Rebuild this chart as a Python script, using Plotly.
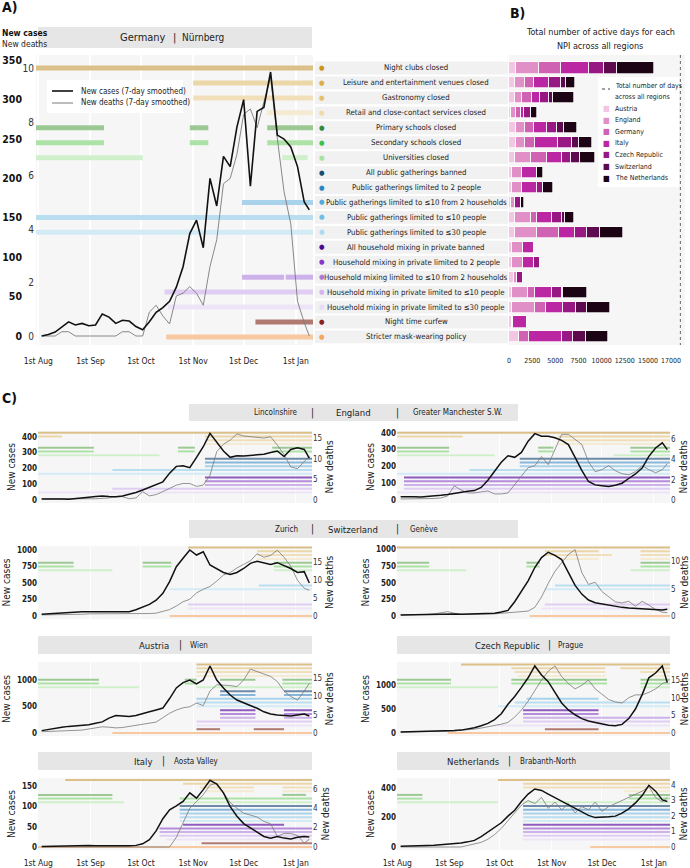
import pandas as pd
import plotly.graph_objects as go

W, H = 690, 868
FONT = "Liberation Sans Narrow, DejaVu Sans Condensed, Roboto Condensed, sans-serif"
DAY0 = pd.Timestamp("2020-08-01")

# ---------------- data ----------------
# days since 1 Aug 2020 at which the smoothed curves were read off
curve_days = [2, 6, 10, 14, 18, 22, 26, 30, 34, 38, 42, 46, 50, 54, 58, 62, 66, 70, 74, 78,
              82, 86, 90, 94, 98, 102, 106, 110, 114, 118, 122, 126, 130, 134, 138, 142, 146,
              150, 154, 158, 161]

month_ticks = ["2020-08-01", "2020-09-01", "2020-10-01", "2020-11-01", "2020-12-01", "2021-01-01"]
month_labels = ["1st Aug", "1st Sep", "1st Oct", "1st Nov", "1st Dec", "1st Jan"]

npi_names = ["Night clubs closed", "Leisure and entertainment venues closed", "Gastronomy closed",
             "Retail and close-contact services closed", "Primary schools closed",
             "Secondary schools closed", "Universities closed", "All public gatherings banned",
             "Public gatherings limited to 2 people",
             "Public gatherings limited to ≤10 from 2 households",
             "Public gatherings limited to ≤10 people", "Public gatherings limited to ≤30 people",
             "All household mixing in private banned",
             "Household mixing in private limited to 2 people",
             "Household mixing limited to ≤10 from 2 households",
             "Household mixing in private limited to ≤10 people",
             "Household mixing in private limited to ≤30 people", "Night time curfew",
             "Stricter mask-wearing policy"]
npi_dot_colors = ["#c9961a", "#dcac48", "#e6bf6e", "#f0d9a6", "#2e8b3a", "#3cc24a", "#a6e39f",
                  "#154e6e", "#2a86c0", "#52a9de", "#6dbde6", "#a9dcef", "#4b0a8c", "#8a35c8",
                  "#ad79dc", "#d3b6ef", "#e7dbf6", "#8b2222", "#f5a55c"]
npi_line_colors = ["#dcc08a", "#ecd7a9", "#f0dfb9", "#f5ead2", "#9cc993", "#ade2a6", "#d0f0cb",
                   "#6d8aa8", "#86b6da", "#a9d3eb", "#b9def0", "#d3ebf5", "#8f5bbf", "#b68bdb",
                   "#cdb1ea", "#e0cdf3", "#ede4f8", "#b07a72", "#f8c9a0"]

countries = ["Austria", "England", "Germany", "Italy", "Czech Republic", "Switzerland",
             "The Netherlands"]
country_colors = ["#f3c6e3", "#e08fc7", "#d062b4", "#bb27a2", "#981883", "#5e0a4e", "#1c0414"]
days_austria = [720, 650, 650, 180, 720, 720, 650, 290, 290, 180, 650, 650, 290, 290, 540, 290, 290, 290, 1080]
days_england = [2520, 1080, 720, 600, 1000, 1000, 1700, 1150, 1150, 470, 1700, 2410, 1190, 1190, 290, 1800, 2520, 180, 0]
days_germany = [2340, 970, 1080, 475, 970, 1080, 1790, 0, 0, 0, 720, 2380, 0, 0, 0, 720, 1150, 0, 1120]
days_italy = [3090, 1620, 900, 360, 1370, 2520, 1550, 1620, 1620, 0, 1620, 1700, 1220, 1260, 0, 1870, 1910, 1440, 3490]
days_czech = [1620, 1260, 970, 790, 1150, 1440, 970, 0, 650, 610, 1080, 1330, 0, 610, 720, 1010, 1340, 0, 1260]
days_switzerland = [1340, 540, 460, 0, 720, 790, 1000, 0, 0, 0, 290, 1300, 0, 0, 0, 180, 1190, 0, 1330]
days_netherlands = [4030, 1000, 2230, 650, 1440, 1370, 1620, 650, 1010, 360, 970, 2520, 0, 0, 0, 2590, 2520, 0, 2450]
total_days_all_regions = 18500
b_ticks = [0, 2500, 5000, 7500, 10000, 12500, 15000]
b_last_tick = 17000

# Germany | Nuernberg
nue_cases = [0, 2, 5, 12, 18, 14, 16, 13, 14, 28, 24, 16, 20, 19, 12, 8, 18, 30, 36, 44, 62, 88, 130,
             147, 112, 200, 165, 228, 215, 265, 300, 190, 285, 290, 335, 255, 250, 240, 215, 170, 160]
nue_deaths = [0, 0, 0, 0.16, 0.16, 0, 0, 0, 0, 0, 0, 0, 0.16, 0.16, 0, 0, 0.9, 1.15, 0.75, 0.45, 1.5,
              1.6, 1.85, 1.6, 1.15, 2.6, 3.6, 5.7, 5.9, 6.8, 8.3, 8.5, 7.8, 8.8, 9.7, 7.4, 5.4, 4.2,
              1.3, 0.5, 0]
# (npi row, first day, last day)
nue_npi = [(0, -3, 165), (1, 92, 165), (2, 92, 165), (3, 136, 165),
           (4, -3, 39), (4, 90, 101), (4, 136, 165), (5, -3, 39), (5, 90, 101), (5, 136, 165),
           (6, -3, 62), (6, 145, 160), (9, 121, 165), (10, -3, 165), (11, -3, 165),
           (14, 121, 146), (14, 147, 165), (15, 75, 165), (16, 77, 165), (17, 129, 165),
           (18, 76, 165)]

# England | Lincolnshire
lin_cases = [6, 7, 8, 6, 5, 8, 12, 18, 22, 25, 22, 20, 25, 35, 48, 63, 80, 99, 115, 170, 213, 217,
             205, 270, 337, 422, 369, 310, 270, 280, 278, 282, 285, 290, 300, 310, 275, 320, 330,
             320, 265]
lin_deaths = [0.3, 0.3, 0.3, 0.2, 0.2, 0.3, 0.3, 0.3, 0.3, 0.4, 0.5, 0.8, 0.8, 0.3, 0.5, 2.0, 1.0,
              1.3, 2.0, 2.8, 3.6, 4.0, 4.0, 3.3, 3.6, 6.0, 11.7, 13.5, 14.5, 16.0, 15.5, 15.3, 15.1,
              15.0, 15.3, 13.3, 11.0, 8.0, 7.6, 9.4, 10.6]
lin_npi = [(0, -3, 165), (1, -3, 14), (1, 99, 165), (2, 99, 165), (3, 99, 165),
           (4, -3, 33), (4, 83, 93), (4, 139, 165), (5, -3, 33), (5, 83, 93), (5, 139, 165),
           (6, -3, 72), (7, 99, 165), (8, 99, 165), (9, 99, 165), (10, 44, 165), (11, -3, 165),
           (12, 99, 165), (13, 99, 165), (14, 99, 165), (15, 44, 165), (16, -3, 165)]

# England | Greater Manchester S.W.
gms_cases = [20, 22, 20, 18, 20, 24, 28, 33, 40, 47, 52, 56, 75, 118, 175, 225, 263, 254, 283, 350,
             395, 380, 380, 370, 355, 330, 254, 176, 110, 90, 85, 80, 88, 100, 128, 155, 190, 260,
             310, 340, 300]
gms_deaths = [0.1, 0.1, 0.1, 0.1, 0.1, 0.15, 0.2, 0.4, 1.4, 1.0, 0.7, 0.7, 0.8, 0.9, 0.6, 0.6, 0.7,
              1.5, 2.4, 3.2, 3.4, 4.3, 3.5, 5.0, 6.5, 6.5, 6.0, 5.5, 3.8, 2.8, 3.0, 3.4, 2.9, 2.6,
              2.5, 2.8, 3.4, 3.0, 2.7, 3.0, 3.6]
gms_npi = [(0, -3, 165), (1, -3, 39), (1, 96, 165), (2, 96, 165), (3, 96, 165),
           (4, -3, 31), (4, 84, 93), (4, 139, 165), (5, -3, 31), (5, 84, 93), (5, 139, 165),
           (6, -3, 58), (6, 129, 165), (7, 73, 165), (8, 73, 165), (9, 73, 165), (10, 43, 165),
           (11, -3, 165), (12, 4, 165), (13, 4, 165), (14, 4, 165), (15, 4, 165), (16, -3, 165)]

# Switzerland | Zurich
zur_cases = [28, 35, 42, 50, 56, 60, 65, 66, 65, 65, 62, 58, 55, 65, 95, 130, 175, 240, 343, 520,
             747, 874, 1000, 924, 974, 773, 720, 660, 630, 660, 720, 798, 830, 800, 780, 808, 770,
             720, 660, 672, 500]
zur_deaths = [0.3, 0.3, 0.4, 0.4, 0.5, 0.5, 0.5, 0.6, 0.6, 0.5, 0.5, 0.5, 0.5, 0.6, 0.6, 0.6, 0.7,
              0.8, 1.2, 1.8, 2.8, 4.0, 4.7, 6.5, 7.5, 8.3, 9.8, 11.5, 12.2, 13.5, 14.5, 15.5, 17.5,
              16.5, 17.0, 18.5, 16.5, 14.0, 10.0, 7.8, 7.2]
zur_npi = [(0, 89, 165), (1, 130, 165), (2, 130, 165), (3, 130, 165),
           (4, -3, 21), (4, 62, 79), (4, 140, 165), (5, -3, 21), (5, 62, 79), (5, 140, 165),
           (6, -3, 44), (6, 140, 165), (10, 131, 165), (11, 78, 165), (15, 89, 165), (16, 89, 165),
           (18, 78, 165)]

# Switzerland | Geneve
gen_cases = [15, 18, 20, 22, 25, 28, 30, 32, 30, 28, 30, 32, 35, 38, 40, 60, 85, 215, 370, 530, 730,
             880, 960, 912, 850, 650, 460, 330, 240, 200, 180, 160, 145, 130, 120, 112, 105, 100,
             92, 90, 100]
gen_deaths = [0.2, 0.2, 0.2, 0.3, 0.3, 0.4, 0.6, 0.8, 0.5, 0.3, 0.3, 0.3, 0.3, 0.3, 0.4, 0.5, 0.6,
              0.8, 0.8, 0.9, 1.6, 3.5, 6.0, 8.2, 9.8, 11.3, 12.2, 8.0, 5.8, 6.2, 4.5, 3.5, 2.6, 2.4,
              2.7, 1.8, 2.7, 2.0, 1.2, 0.7, 0.6]
gen_npi = [(0, -3, 165), (1, 88, 120), (1, 145, 165), (2, 88, 128), (2, 145, 165), (3, 96, 120),
           (3, 145, 165), (4, -3, 19), (4, 77, 85), (4, 145, 165), (5, -3, 19), (5, 77, 85),
           (5, 145, 165), (6, -3, 41), (6, 139, 165), (10, 94, 165), (11, 88, 165), (15, 88, 165),
           (16, 86, 165), (18, 79, 165)]

# Austria | Wien
wie_cases = [45, 70, 90, 110, 125, 135, 145, 155, 185, 210, 280, 330, 320, 310, 330, 370, 400, 434,
             470, 650, 850, 950, 1000, 925, 1000, 1264, 1000, 850, 717, 623, 570, 528, 466, 400,
             360, 340, 330, 321, 340, 358, 321]
wie_deaths = [0.35, 0.4, 0.5, 0.5, 0.6, 0.7, 0.8, 1.1, 1.4, 1.7, 1.6, 1.4, 1.5, 1.8, 2.1, 2.4, 2.5,
              3.0, 4.2, 5.4, 6.3, 6.9, 7.2, 8.2, 7.5, 11.5, 13.2, 13.2, 13.0, 12.7, 14.5, 17.5,
              16.8, 16.3, 15.5, 14.1, 11.5, 10.0, 9.0, 11.5, 13.6]
wie_npi = [(0, 94, 165), (1, 94, 165), (2, 94, 165), (3, 94, 165),
           (4, -3, 36), (4, 87, 94), (4, 108, 129), (4, 145, 165), (5, -3, 36), (5, 87, 94),
           (5, 145, 165), (6, -3, 60), (6, 94, 165), (7, 108, 129), (7, 146, 165), (8, 108, 129),
           (8, 146, 165), (9, 94, 165), (10, 94, 165), (11, 94, 165), (12, 108, 129),
           (12, 146, 165), (13, 108, 129), (13, 146, 165), (14, 108, 129), (14, 146, 165),
           (15, 94, 165), (16, 94, 165), (17, 94, 108), (17, 128, 146), (18, 44, 165)]

# Czech Republic | Prague
pra_cases = [20, 22, 25, 28, 30, 35, 40, 45, 50, 60, 80, 110, 150, 200, 280, 400, 600, 760, 950,
             1150, 1396, 1208, 1069, 833, 625, 480, 380, 300, 250, 220, 190, 160, 150, 180, 300,
             500, 800, 1150, 1250, 1396, 1050]
pra_deaths = [0.3, 0.3, 0.3, 0.3, 0.4, 0.4, 0.5, 0.5, 0.6, 0.7, 0.9, 1.1, 1.4, 1.7, 2.0, 2.5, 3.0,
              4.5, 6.5, 9.0, 12.0, 15.0, 17.5, 19.0, 16.0, 14.0, 12.5, 13.5, 15.0, 12.5, 11.0, 9.5,
              8.8, 8.5, 10.0, 10.8, 10.8, 11.5, 12.5, 14.0, 14.5]
pra_npi = [(0, 38, 165), (1, 68, 124), (1, 133, 165), (2, 70, 124), (2, 145, 165), (3, 72, 124),
           (3, 150, 165), (4, -3, 32), (4, 68, 125), (4, 145, 165), (5, -3, 32), (5, 68, 125),
           (5, 145, 165), (6, -3, 60), (6, 145, 165), (9, 77, 120), (10, 70, 165), (11, 60, 165),
           (12, 75, 120), (13, 75, 120), (14, 75, 165), (15, 75, 165), (16, 60, 165),
           (17, 88, 120), (18, 30, 165)]

# Italy | Aosta Valley
aos_cases = [1.5, 2, 2, 3, 3, 4, 5, 4, 3, 3, 3, 3, 2, 3, 4, 8, 18, 40, 70, 92, 102, 113, 134, 121,
             142, 165, 156, 134, 100, 76, 58, 47, 35, 26, 22, 26, 22, 20, 24, 26, 25]
aos_deaths = [0, 0, 0, 0, 0, 0, 0, 0, 0, 0, 0, 0, 0, 0, 0, 0, 0, 0, 0, 0, 1.0, 2.5, 4.0, 4.7, 5.4,
              6.4, 6.6, 5.6, 4.6, 4.0, 3.5, 3.3, 3.1, 2.65, 2.4, 1.1, 1.4, 1.4, 1.2, 0.4, 0.8]
aos_npi = [(0, 16, 165), (1, 86, 165), (2, 96, 128), (2, 145, 165), (3, 100, 128), (3, 145, 165),
           (4, -3, 44), (4, 145, 159), (5, -3, 44), (5, 84, 165), (6, -3, 51), (6, 84, 165),
           (7, 84, 165), (8, 84, 165), (9, 84, 165), (10, 84, 165), (11, 84, 165), (12, 86, 146),
           (13, 72, 165), (14, 72, 165), (15, 72, 165), (16, 76, 165), (17, 97, 165),
           (18, -3, 165)]

# Netherlands | Brabanth-North
bra_cases = [5, 5, 6, 8, 10, 12, 15, 18, 22, 28, 35, 45, 70, 100, 130, 165, 210, 250, 310, 360, 395,
             385, 360, 335, 310, 290, 260, 235, 215, 200, 200, 205, 210, 230, 260, 300, 350, 420,
             380, 320, 310]
bra_deaths = [0, 0, 0, 0, 0, 0, 0, 0, 0, 0, 0.1, 0.2, 0.3, 0.5, 0.8, 1.2, 1.7, 2.2, 2.7, 3.0, 2.8,
              3.2, 2.5, 2.9, 2.4, 2.8, 2.2, 2.6, 2.4, 2.9, 2.3, 2.6, 2.8, 3.0, 3.2, 3.4, 3.6, 3.9,
              3.2, 2.9, 3.2]
bra_npi = [(0, 60, 165), (1, 75, 165), (2, 75, 165), (3, 135, 165), (4, -3, 15), (4, 138, 165),
           (5, -3, 15), (5, 138, 165), (6, -3, 60), (6, 75, 165), (7, 75, 165), (8, 75, 165),
           (9, 75, 165), (10, 75, 165), (11, 75, 165), (12, 75, 165), (13, 75, 165),
           (14, 75, 165), (15, 75, 165), (16, 75, 165), (18, 115, 165)]


# ---------------- helpers ----------------
def day(d):
    return DAY0 + pd.Timedelta(days=d)


def xdom(a, b):
    return [a / W, b / W]


def ydom(top, bottom):
    return [1 - bottom / H, 1 - top / H]


fig = go.Figure()
axes = {}
count = {"x": 0, "y": 0}


def axis(kind, **kw):
    count[kind] += 1
    n = count[kind]
    suffix = "" if n == 1 else str(n)
    kw.setdefault("automargin", False)
    axes[kind + "axis" + suffix] = kw
    return kind + suffix


def next_id(kind):
    n = count[kind] + 1
    return kind + ("" if n == 1 else str(n))


def add_npi(segments, xa, ya, width):
    for row in range(len(npi_names)):
        xs, ys = [], []
        for r, a, b in segments:
            if r == row:
                xs += [day(a), day(b), None]
                ys += [row, row, None]
        if xs:
            fig.add_trace(go.Scatter(x=xs, y=ys, mode="lines", xaxis=xa, yaxis=ya,
                                     line=dict(color=npi_line_colors[row], width=width),
                                     hoverinfo="skip", showlegend=False))


def add_curves(cases, deaths, xa, yc, yd, wc, wd):
    dates = [day(d) for d in curve_days]
    fig.add_trace(go.Scatter(x=dates, y=deaths, mode="lines", xaxis=xa, yaxis=yd,
                             line=dict(color="#7a7a7a", width=wd), showlegend=False))
    fig.add_trace(go.Scatter(x=dates, y=cases, mode="lines", xaxis=xa, yaxis=yc,
                             line=dict(color="#111111", width=wc), showlegend=False))


def text(x, y, s, size=11, anchor="center", bold=False, color="#222", **kw):
    fig.add_annotation(x=x / W, y=1 - y / H, xref="paper", yref="paper", text=s,
                       showarrow=False, xanchor=anchor, yanchor="middle",
                       font=dict(size=size, color=color, family=FONT,
                                 weight="bold" if bold else "normal"), **kw)


def box(x0, y0, x1, y1, color="#e6e6e6", layer="below"):
    fig.add_shape(type="rect", xref="paper", yref="paper", x0=x0 / W, x1=x1 / W,
                  y0=1 - y1 / H, y1=1 - y0 / H, fillcolor=color, line_width=0, layer=layer)


TICK = dict(size=8.5, color="#222")

# ---------------- panel A ----------------
A_TOP, A_BOT = 55, 345
xa = axis("x", domain=xdom(36, 313), anchor="y", type="date",
          range=[day(-1.37), day(163.2)], tickvals=month_ticks, ticktext=month_labels,
          showgrid=True, gridcolor="white", gridwidth=1.5, zeroline=False, ticks="",
          tickfont=TICK, ticklabelstandoff=9)
ya_row = axis("y", domain=ydom(A_TOP, A_BOT), range=[18.54, -0.87], visible=False, anchor=xa)
ya_d = axis("y", overlaying=ya_row, anchor="free", position=34 / W, side="left",
            range=[-0.337, 10.52], tickvals=[0, 2, 4, 6, 8, 10], showgrid=False,
            zeroline=False, ticks="", tickfont=dict(size=10, color="#333"))
ya_c = axis("y", overlaying=ya_row, anchor="free", position=22 / W, side="left",
            range=[-11.4, 356.6], tickvals=[0, 50, 100, 150, 200, 250, 300, 350],
            showgrid=False, zeroline=False, ticks="",
            tickfont=dict(size=10.5, color="#111", weight="bold"))
add_npi(nue_npi, xa, ya_row, 5)
add_curves(nue_cases, nue_deaths, xa, ya_c, ya_d, 1.6, 0.9)

text(0, 7, "A)", size=14, anchor="left", bold=True, color="#111")
text(0, 33, "New cases", size=8.5, anchor="left", bold=True, color="#111")
text(0, 44, "New deaths", size=8.5, anchor="left")
box(38, 27, 312, 48)
text(168, 37.5, "Germany", size=11, anchor="right")
text(174, 37.5, "|", size=11)
text(180, 37.5, "Nürnberg", size=10, anchor="left")

# legend of panel A
box(47, 80, 183, 113, color="white")
fig.add_shape(type="line", xref="paper", yref="paper", x0=52 / W, x1=73 / W,
              y0=1 - 91 / H, y1=1 - 91 / H, line=dict(color="#111", width=1.6))
fig.add_shape(type="line", xref="paper", yref="paper", x0=52 / W, x1=73 / W,
              y0=1 - 103 / H, y1=1 - 103 / H, line=dict(color="#7a7a7a", width=1))
text(79, 91, "New cases (7-day smoothed)", size=8, anchor="left")
text(79, 103, "New deaths (7-day smoothed)", size=8, anchor="left")

# ---------------- panel B ----------------
yb_id = next_id("y")
xb = axis("x", domain=xdom(509, 685), anchor=yb_id, range=[0, 19000],
          tickvals=b_ticks, ticktext=[str(t) for t in b_ticks], showgrid=False,
          zeroline=False, ticks="", tickangle=0, tickfont=dict(size=7, color="#222"),
          ticklabelstandoff=10)
yb = axis("y", domain=ydom(A_TOP, A_BOT), range=[18.54, -0.87], visible=False, anchor=xb)
rows = list(range(len(npi_names)))
for name, col, vals in zip(countries, country_colors,
                           [days_austria, days_england, days_germany, days_italy, days_czech,
                            days_switzerland, days_netherlands]):
    fig.add_trace(go.Bar(x=vals, y=rows, orientation="h", xaxis=xb, yaxis=yb, name=name,
                         marker=dict(color=col, line=dict(color="white", width=0.7)),
                         width=0.74, showlegend=False))
fig.add_trace(go.Scatter(x=[total_days_all_regions] * 2, y=[-0.87, 18.54], mode="lines",
                         xaxis=xb, yaxis=yb, line=dict(color="#666", width=1, dash="dot"),
                         showlegend=False))
# last tick label, nudged right so it does not collide with 15000
fig.add_annotation(x=b_last_tick, xref=xb, y=1 - 361 / H, yref="paper", text=str(b_last_tick),
                   showarrow=False, xshift=5, yanchor="middle",
                   font=dict(size=7, color="#222", family=FONT))

text(508, 13, "B)", size=14, anchor="left", bold=True, color="#111")
text(600, 32, "Total number of active days for each", size=9)
text(600, 46, "NPI across all regions", size=9)

# npi row labels with dots
for i, name in enumerate(npi_names):
    fig.add_shape(type="rect", xref="paper", yref=yb, x0=315 / W, x1=508 / W, y0=i - 0.43,
                  y1=i + 0.43, fillcolor="#f1f1f1", line_width=0, layer="below")
    fig.add_annotation(x=416 / W, xref="paper", y=i, yref=yb, text=name, showarrow=False,
                       font=dict(size=7.8, color="#222", family=FONT))
    fig.add_annotation(x=321.5 / W, xref="paper", y=i, yref=yb, text="●", showarrow=False,
                       font=dict(size=7, color=npi_dot_colors[i]))

# legend of panel B
box(598, 77, 679, 187, color="white")
fig.add_shape(type="line", xref="paper", yref="paper", x0=602 / W, x1=610 / W,
              y0=1 - 89 / H, y1=1 - 89 / H, line=dict(color="#444", width=1, dash="dot"))
text(613, 86, "Total number of days", size=7, anchor="left")
text(613, 97, "across all regions", size=7, anchor="left")
for k, (name, col) in enumerate(zip(countries, country_colors)):
    text(606, 108.5 + 11.6 * k, "■", size=8, color=col)
    text(613, 108.5 + 11.6 * k, name, size=7, anchor="left")

# ---------------- panel C ----------------
text(0, 398, "C)", size=14, anchor="left", bold=True, color="#111")
cols_px = [(38, 312), (397, 670)]
rows_px = [(431, 500, 503, 432.7), (546, 616, 619, 547.5), (662, 733, 736, 664.5),
           (778, 847, 850, 780)]
panels = [
    (0, 0, lin_cases, lin_deaths, lin_npi, 0.158, 4.13, [0, 100, 200, 300, 400], [0, 5, 10, 15]),
    (0, 1, gms_cases, gms_deaths, gms_npi, 0.168, 10.1, [0, 100, 200, 300, 400], [0, 2, 4, 6]),
    (1, 0, zur_cases, zur_deaths, zur_npi, 0.066, 3.56, [0, 250, 500, 750, 1000], [0, 5, 10, 15]),
    (1, 1, gen_cases, gen_deaths, gen_npi, 0.0664, 5.44, [0, 250, 500, 750, 1000], [0, 5, 10]),
    (2, 0, wie_cases, wie_deaths, wie_npi, 0.053, 3.65, [0, 500, 1000], [0, 5, 10, 15]),
    (2, 1, pra_cases, pra_deaths, pra_npi, 0.048, 3.53, [0, 500, 1000], [0, 5, 10, 15]),
    (3, 0, aos_cases, aos_deaths, aos_npi, 0.404, 9.67, [0, 50, 100, 150], [0, 2, 4, 6]),
    (3, 1, bra_cases, bra_deaths, bra_npi, 0.147, 15.5, [0, 200, 400], [0, 1, 2, 3, 4]),
]
for r, c, cases, deaths, npi, k, kd, ct, dt in panels:
    left, right = cols_px[c]
    top, zero, bottom, first = rows_px[r]
    step = (zero - first) / 18
    y_base = next_id("y")
    xc = axis("x", domain=xdom(left, right), anchor=y_base, type="date",
              range=[day(-0.18), day(162.6)], tickvals=month_ticks, ticktext=month_labels,
              showticklabels=(r == 3), showgrid=True, gridcolor="white", gridwidth=1.2,
              zeroline=False, ticks="", tickfont=TICK, ticklabelstandoff=6)
    yr = axis("y", domain=ydom(top, bottom), anchor=xc, visible=False,
              range=[(bottom - first) / step, (top - first) / step])
    yd = axis("y", overlaying=yr, anchor=xc, side="right",
              range=[-(bottom - zero) / kd, (zero - top) / kd], tickvals=dt, showgrid=False,
              zeroline=False, ticks="", tickfont=dict(size=8, color="#333"),
              title=dict(text="New deaths", font=dict(size=10, color="#222"), standoff=4))
    yc = axis("y", overlaying=yr, anchor=xc, side="left",
              range=[-(bottom - zero) / k, (zero - top) / k], tickvals=ct, showgrid=False,
              zeroline=False, ticks="", tickfont=dict(size=8, color="#222", weight="bold"),
              title=dict(text="New cases", font=dict(size=10, color="#222"), standoff=4))
    add_npi(npi, xc, yr, 2)
    add_curves(cases, deaths, xc, yc, yd, 1.5, 0.8)

# region headers of panel C
box(189, 404, 518, 421)
text(300, 412.5, "Lincolnshire", size=8, anchor="right")
text(312, 412.5, "|", size=10)
text(353, 412.5, "England", size=9.5)
text(397, 412.5, "|", size=10)
text(411, 412.5, "Greater Manchester S.W.", size=8, anchor="left")
box(189, 520, 518, 538)
text(300, 529, "Zurich", size=8, anchor="right")
text(312, 529, "|", size=10)
text(353, 529, "Switzerland", size=9.5)
text(397, 529, "|", size=10)
text(408, 529, "Genève", size=8, anchor="left")
box(38, 636, 312, 654)
text(171, 645, "Austria", size=9.5, anchor="right")
text(180, 645, "|", size=10)
text(188, 645, "Wien", size=8, anchor="left")
box(397, 636, 670, 654)
text(542, 645, "Czech Republic", size=9.5, anchor="right")
text(549, 645, "|", size=10)
text(556, 645, "Prague", size=8, anchor="left")
box(38, 752, 312, 770)
text(155, 761, "Italy", size=9.5, anchor="right")
text(163, 761, "|", size=10)
text(172, 761, "Aosta Valley", size=8, anchor="left")
box(397, 752, 670, 770)
text(502, 761, "Netherlands", size=9.5, anchor="right")
text(510, 761, "|", size=10)
text(518, 761, "Brabanth-North", size=8, anchor="left")

fig.update_layout(width=W, height=H, margin=dict(l=0, r=0, t=0, b=0, autoexpand=False),
                  paper_bgcolor="white", plot_bgcolor="#f6f6f6", barmode="stack", bargap=0,
                  showlegend=False, font=dict(family=FONT, color="#222"), **axes)
fig.write_html("out.html", config={"displayModeBar": False},
               post_script="document.body.style.margin='0px';")
